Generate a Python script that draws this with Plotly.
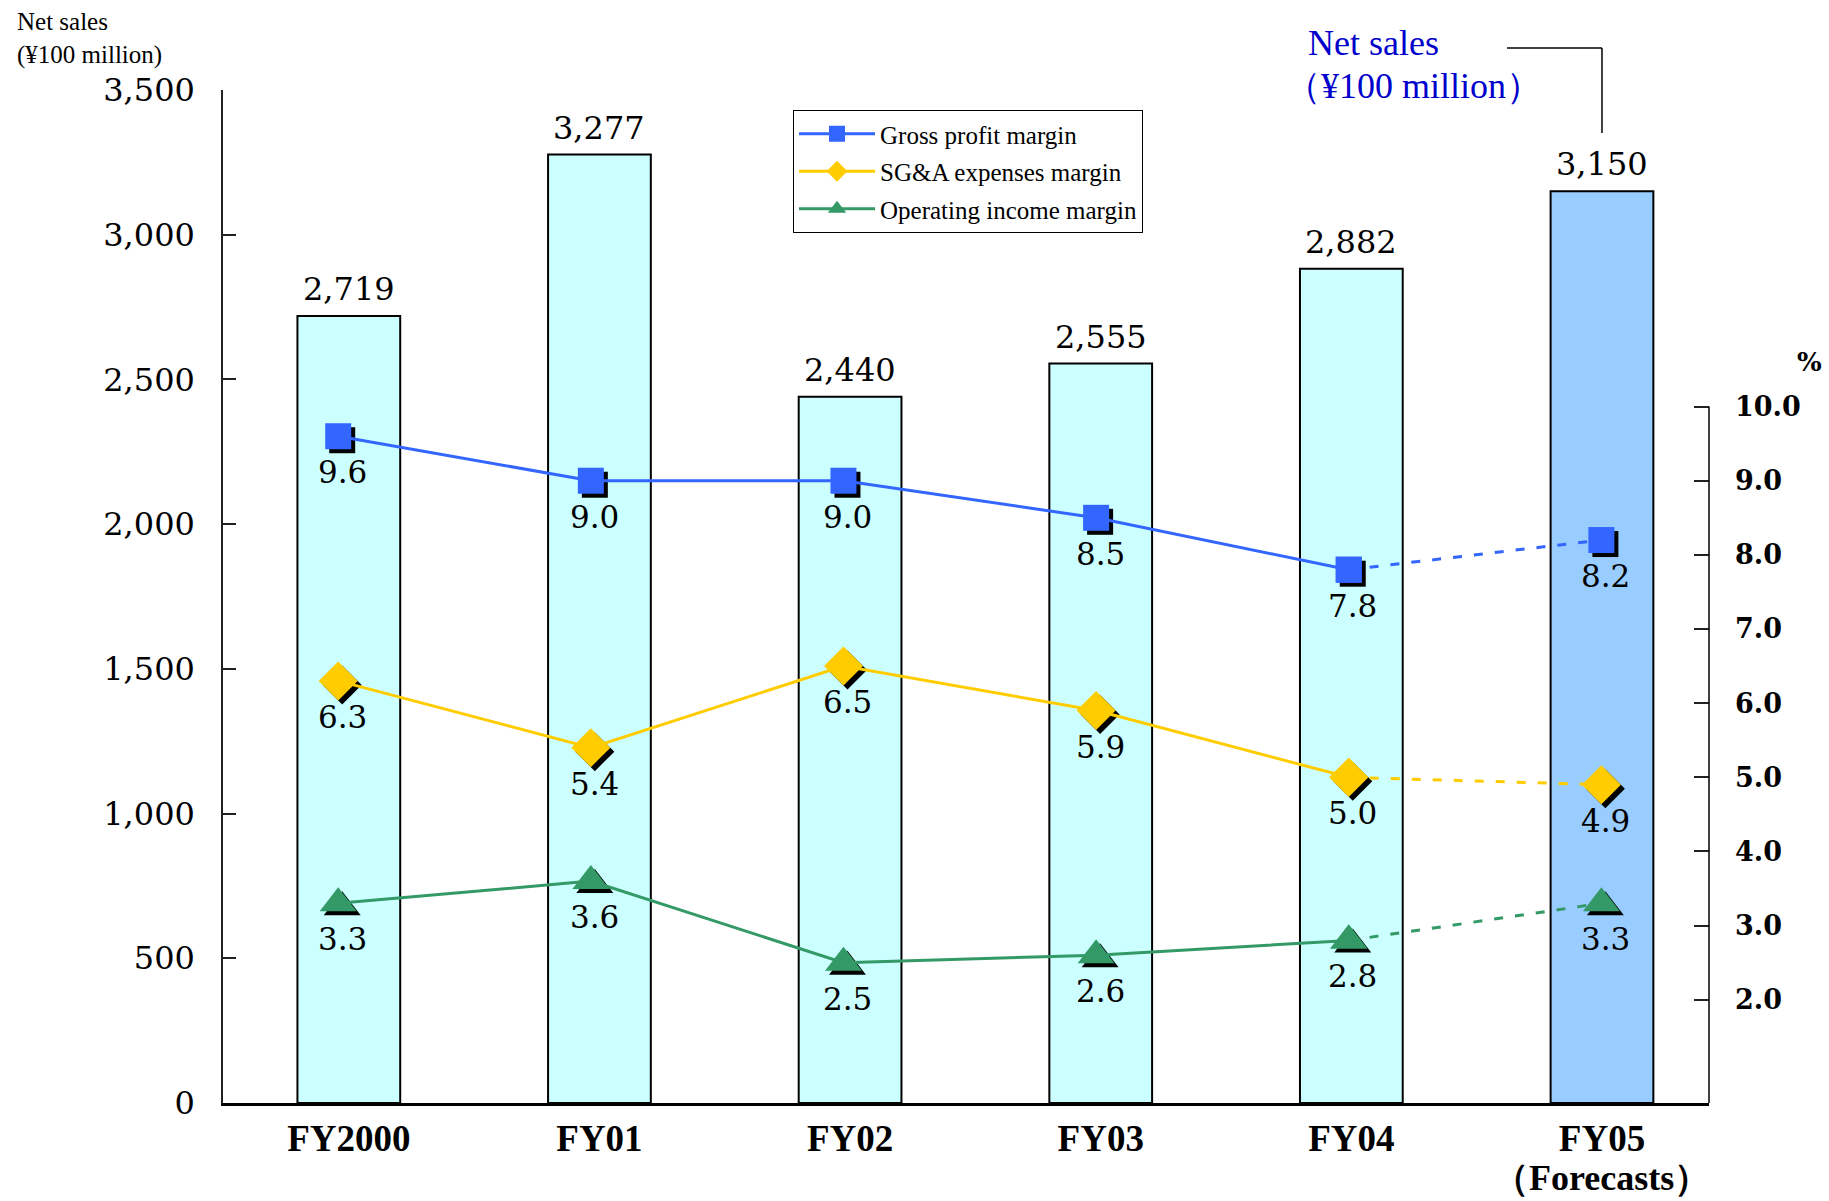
import plotly.graph_objects as go

# ---------------- data ----------------
categories = ["FY2000", "FY01", "FY02", "FY03", "FY04", "FY05"]
forecast_note = "（Forecasts）"
net_sales = [2719, 3277, 2440, 2555, 2882, 3150]
gross_profit_margin = [9.6, 9.0, 9.0, 8.5, 7.8, 8.2]
sga_margin = [6.3, 5.4, 6.5, 5.9, 5.0, 4.9]
operating_margin = [3.3, 3.6, 2.5, 2.6, 2.8, 3.3]
left_ticks = [0, 500, 1000, 1500, 2000, 2500, 3000, 3500]
right_ticks = [2, 3, 4, 5, 6, 7, 8, 9, 10]

series_names = ["Gross profit margin", "SG&A expenses margin", "Operating income margin"]
series_values = [gross_profit_margin, sga_margin, operating_margin]

# ---------------- style ----------------
series_colors = ["#3366FF", "#FFCC00", "#339966"]
series_symbols = ["square", "diamond", "triangle-up"]
series_sizes = [26, 30, 32]
bar_colors = ["#CCFFFF"] * 5 + ["#99CCFF"]

NUM_FONT = "DejaVu Serif"
TXT_FONT = "Liberation Serif"

W, H = 1829, 1201
L, R, T, B = 223, 120, 90, 98
plot_w = W - L - R
plot_h = H - T - B

def py(px):
    """pixel row -> paper y"""
    return (plot_h + T - px) / plot_h

def pxx(px):
    """pixel column -> paper x"""
    return (px - L) / plot_w

x_range = [-0.502, 5.427]
cat_px = plot_w / (x_range[1] - x_range[0])
line_x_range = [-0.456, 5.426]                 # line/marker category axis
cat2_px = plot_w / (line_x_range[1] - line_x_range[0])
sh_x = 4 / cat2_px
shadow_x_range = [line_x_range[0] - sh_x, line_x_range[1] - sh_x]   # shadow offset right

pct_range = [0.607, 14.27]                     # percent axis
px_per_pct = plot_h / (pct_range[1] - pct_range[0])
sh_y = 4 / px_per_pct
shadow_y_range = [pct_range[0] + sh_y, pct_range[1] + sh_y]   # shadow offset down

fig = go.Figure()

# bars
fig.add_trace(go.Bar(
    x=categories, y=net_sales, width=0.41,
    marker=dict(color=bar_colors, line=dict(color="black", width=2)),
    showlegend=False, hoverinfo="skip",
))

# marker shadows (x2 / y3)
for vals, sym, size in zip(series_values, series_symbols, series_sizes):
    fig.add_trace(go.Scatter(
        x=categories, y=vals, xaxis="x2", yaxis="y3", mode="markers",
        marker=dict(symbol=sym, size=size, color="black", line=dict(width=0)),
        showlegend=False, hoverinfo="skip",
    ))

# lines (x3 / y2)
for i, (name, vals, col, sym, size) in enumerate(zip(series_names, series_values,
                                                     series_colors, series_symbols,
                                                     series_sizes)):
    fig.add_trace(go.Scatter(
        x=categories[:5], y=vals[:5], xaxis="x3", yaxis="y2",
        mode="lines+markers", name=name, legendgroup=f"g{i}",
        line=dict(color=col, width=3),
        marker=dict(symbol=sym, size=size, color=col, line=dict(width=0)),
    ))
    fig.add_trace(go.Scatter(
        x=categories[4:], y=vals[4:], xaxis="x3", yaxis="y2",
        mode="lines+markers", showlegend=False, legendgroup=f"g{i}",
        line=dict(color=col, width=3, dash="9px,12px"),
        marker=dict(symbol=sym, size=size, color=col, line=dict(width=0)),
    ))

annotations = []
# bar value labels
for c, v in zip(categories, net_sales):
    annotations.append(dict(
        x=c, y=v, xref="x", yref="y", text=f"{v:,}", showarrow=False,
        yanchor="middle", yshift=27,
        font=dict(family=NUM_FONT, size=32, color="black"),
    ))
# margin value labels
for vals in series_values:
    for c, v in zip(categories, vals):
        annotations.append(dict(
            x=c, y=v, xref="x3", yref="y2", text=f"{v:.1f}", showarrow=False,
            yanchor="middle", yshift=-36, xshift=4,
            font=dict(family=NUM_FONT, size=31, color="black"),
        ))

# second line of the FY05 category label
annotations.append(dict(
    x=categories[-1], y=py(1178), xref="x", yref="paper", text=forecast_note,
    showarrow=False, xanchor="center", yanchor="middle",
    font=dict(family=TXT_FONT, size=36, color="black", weight="bold"),
))

# axis titles
annotations.append(dict(
    x=pxx(15), y=py(39), xref="paper", yref="paper",
    text="Net sales<br>(¥100 million)", showarrow=False, xanchor="left",
    yanchor="middle", align="left",
    font=dict(family=TXT_FONT, size=25, color="black"),
))
annotations.append(dict(
    x=pxx(1306), y=py(43), xref="paper", yref="paper",
    text="Net sales", showarrow=False, xanchor="left", yanchor="middle",
    font=dict(family=TXT_FONT, size=36, color="#0000CC"),
))
annotations.append(dict(
    x=pxx(1283), y=py(86), xref="paper", yref="paper",
    text="（¥100 million）", showarrow=False, xanchor="left", yanchor="middle",
    font=dict(family=TXT_FONT, size=36, color="#0000CC"),
))
annotations.append(dict(
    x=pxx(1809), y=py(362), xref="paper", yref="paper",
    text="%", showarrow=False, xanchor="center", yanchor="middle",
    font=dict(family=NUM_FONT, size=26, color="black", weight="bold"),
))

shapes = [
    dict(type="line", xref="x", yref="paper", x0=5 - 95 / cat_px, x1=5,
         y0=py(48), y1=py(48), line=dict(color="black", width=1.5)),
    dict(type="line", xref="x", yref="paper", x0=5, x1=5,
         y0=py(48), y1=py(133), line=dict(color="black", width=1.5)),
    # right axis line from 10.0 down to the baseline
    dict(type="line", xref="paper", yref="y2", x0=1, x1=1,
         y0=pct_range[0], y1=max(right_ticks), line=dict(color="black", width=1.5)),
]

fig.update_layout(
    width=W, height=H,
    margin=dict(l=L, r=R, t=T, b=B, autoexpand=False),
    paper_bgcolor="white", plot_bgcolor="white",
    showlegend=True,
    legend=dict(
        x=pxx(793), y=py(110),
        xanchor="left", yanchor="top",
        bgcolor="white", bordercolor="black", borderwidth=1,
        font=dict(family=TXT_FONT, size=25, color="black"),
        itemwidth=76, tracegroupgap=2,
    ),
    xaxis=dict(
        type="category", range=x_range, showgrid=False, zeroline=False,
        showline=True, linecolor="black", linewidth=3, ticks="",
        tickfont=dict(family=TXT_FONT, size=37, color="black", weight="bold"),
        ticklabelstandoff=1,
    ),
    xaxis2=dict(
        type="category", range=shadow_x_range, overlaying="x", visible=False,
        showgrid=False, zeroline=False,
    ),
    xaxis3=dict(
        type="category", range=line_x_range, overlaying="x", visible=False,
        showgrid=False, zeroline=False,
    ),
    yaxis=dict(
        range=[0, 3500], tickvals=left_ticks, tickformat=",",
        showgrid=False, zeroline=False, showline=True, linecolor="#222",
        linewidth=1.5, ticks="inside", ticklen=13, tickwidth=1.5, tickcolor="#222",
        tickfont=dict(family=NUM_FONT, size=32, color="black"),
        ticklabelstandoff=20,
    ),
    yaxis2=dict(
        range=pct_range, overlaying="y", side="right", anchor="x",
        tickvals=right_ticks, ticktext=[f"{v:.1f}" for v in right_ticks],
        showgrid=False, zeroline=False, showline=False,
        ticks="inside", ticklen=15, tickwidth=1.5, tickcolor="#222",
        tickfont=dict(family=NUM_FONT, size=27, color="black", weight="bold"),
        ticklabelstandoff=25,
    ),
    yaxis3=dict(
        range=shadow_y_range, overlaying="y", visible=False, showgrid=False,
        zeroline=False,
    ),
    annotations=annotations,
    shapes=shapes,
)

fig.write_html("out.html")
